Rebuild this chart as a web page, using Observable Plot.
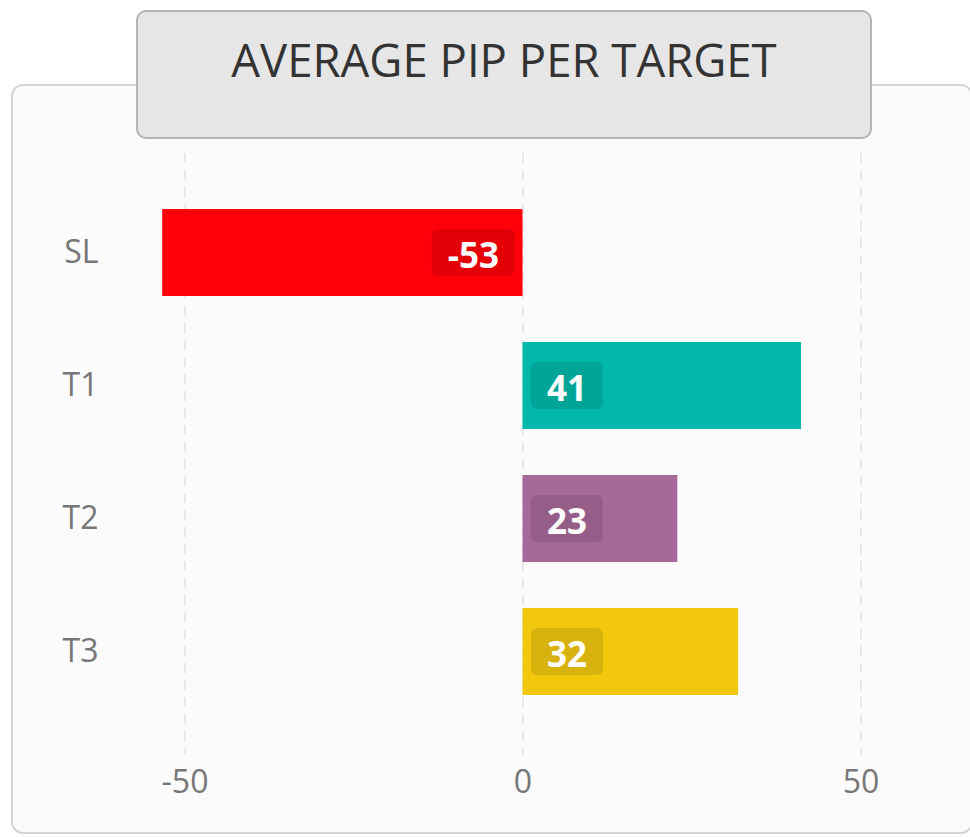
<!DOCTYPE html>
<html>
<head>
<meta charset="utf-8">
<script src="https://cdn.jsdelivr.net/npm/d3@7"></script>
<script src="https://cdn.jsdelivr.net/npm/@observablehq/plot@0.6"></script>
<style>
  body { margin: 0; background: #ffffff; font-family: "Open Sans", sans-serif; }
  #wrap { position: relative; width: 970px; height: 837px; overflow: hidden; background: #ffffff; }
  #card { position: absolute; left: 11px; top: 84px; width: 962px; height: 750px; box-sizing: border-box;
          border: 2px solid #d4d4d4; border-radius: 12px; background: #fbfbfb; }
  #titlebox { position: absolute; left: 136px; top: 10px; width: 736px; height: 129px; box-sizing: border-box;
              border: 2px solid #b5b5b5; border-radius: 10px; background: #e6e6e6; }
  #title { position: absolute; left: 136px; width: 736px; top: 37px; text-align: center; font-size: 45.5px;
           line-height: 1; color: #333333; white-space: nowrap; font-family: "Open Sans", sans-serif; }
  #chart { position: absolute; left: 0; top: 0; }
</style>
</head>
<body>
<div id="wrap">
  <div id="card"></div>
  <div id="titlebox"></div>
  <div id="title">AVERAGE PIP PER TARGET</div>
  <div id="chart"></div>
</div>
<script>
const categories = ["SL", "T1", "T2", "T3"];
const values = [-53.3, 41.2, 22.9, 31.9];
const valueLabels = ["-53", "41", "23", "32"];
const colors = ["#ff0008", "#01b8aa", "#a66999", "#f2c80f"];
const xTicks = [-50, 0, 50];
const xTickLabels = ["-50", "0", "50"];

const data = categories.map((c, i) => ({ cat: c, value: values[i], label: valueLabels[i] }));

const textStyle = { fill: "white", fontWeight: "bold", fontSize: 35, fontFamily: '"Open Sans", sans-serif' };

const chart = Plot.plot({
  width: 970,
  height: 837,
  marginTop: 153,
  marginBottom: 82,
  marginLeft: 110,
  marginRight: 0,
  style: { background: "transparent", fontFamily: '"Open Sans", sans-serif', fontSize: "32px", color: "#777777", overflow: "visible" },
  x: { domain: [-50, 50], range: [184.5, 860.5], ticks: xTicks,
       tickFormat: d => xTickLabels[xTicks.indexOf(d)], tickSize: 0, tickPadding: 15, label: null },
  y: { domain: categories, range: [140, 764], paddingInner: 0.343, paddingOuter: 0.5, align: 0.5,
       tickSize: 0, tickPadding: 12, label: null },
  color: { domain: categories, range: colors },
  marks: [
    Plot.ruleX(xTicks, { stroke: "#e2e2e2", strokeWidth: 1.5, strokeDasharray: "10,7" }),
    Plot.barX(data, { x: "value", y: "cat", fill: "cat" }),
    Plot.text(data.filter(d => d.value >= 0), { x: 0, y: "cat", text: "label", textAnchor: "start", dx: 24, dy: 4, ...textStyle }),
    Plot.text(data.filter(d => d.value < 0), { x: 0, y: "cat", text: "label", textAnchor: "end", dx: -24, dy: 4, ...textStyle })
  ]
});

document.getElementById("chart").appendChild(chart);

// axis text styling
chart.querySelectorAll('g[aria-label^="x-axis"] text, g[aria-label^="y-axis"] text').forEach(t => {
  t.setAttribute("font-size", "32px");
  t.style.fontSize = "32px";
  t.setAttribute("fill", "#777777");
});

// darker rounded background behind value labels
const ns = "http://www.w3.org/2000/svg";
const sr = chart.getBoundingClientRect();
chart.querySelectorAll('g[aria-label="text"]').forEach(g => {
  g.querySelectorAll("text").forEach(t => {
    const b = t.getBoundingClientRect();
    const r = document.createElementNS(ns, "rect");
    r.setAttribute("x", b.left - sr.left - 16);
    r.setAttribute("y", (b.top + b.bottom) / 2 - sr.top - 25.6);
    r.setAttribute("width", b.width + 32);
    r.setAttribute("height", 47);
    r.setAttribute("rx", 6);
    r.setAttribute("fill", "#000000");
    r.setAttribute("fill-opacity", 0.1);
    chart.insertBefore(r, g);
  });
});
</script>
</body>
</html>
